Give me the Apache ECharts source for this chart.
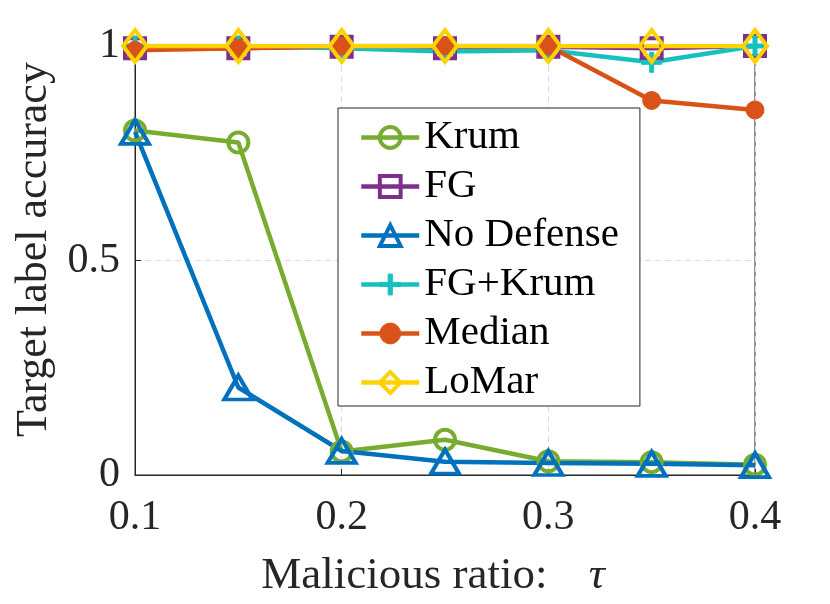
<!DOCTYPE html>
<html>
<head>
    <meta charset="utf-8">
    <title>Target label accuracy</title>
    <script src="https://cdn.jsdelivr.net/npm/echarts@6/dist/echarts.min.js"></script>
    <style>
        html, body { margin: 0; padding: 0; background: #fff; }
        #main { width: 830px; height: 604px; }
    </style>
</head>
<body>
<div id="main"></div>
<script type="text/javascript">
// 数据
var ratios = [0.1, 0.15, 0.2, 0.25, 0.3, 0.35, 0.4];
var krum      = [0.803, 0.775, 0.055, 0.082, 0.032, 0.030, 0.024];
var fg        = [0.995, 0.995, 0.998, 0.995, 0.998, 0.995, 1.0];
var noDefense = [0.80, 0.204, 0.056, 0.031, 0.028, 0.026, 0.023];
var fgKrum    = [1.0, 1.0, 0.995, 0.987, 0.99, 0.962, 1.0];
var median    = [0.99, 0.995, 1.0, 1.0, 1.0, 0.873, 0.851];
var loMar     = [1.0, 1.0, 1.0, 1.0, 1.0, 1.0, 1.0];
var xTicks = ['0.1', '0.2', '0.3', '0.4'];
var yTicks = ['0', '0.5', '1'];

var serif = 'Liberation Serif';
var plus = 'path://M4,0h2v4h4v2h-4v4h-2v-4h-4v-2h4z';

function pairs(vals) {
    var out = [];
    for (var i = 0; i < ratios.length; i++) {
        out.push([ratios[i], vals[i]]);
    }
    return out;
}

function mk(name, vals, col, symbol, size, hollow) {
    return {
        name: name,
        type: 'line',
        data: pairs(vals),
        symbol: symbol,
        symbolSize: size,
        showAllSymbol: true,
        lineStyle: { color: col, width: 4.5 },
        itemStyle: hollow
            ? { color: 'rgba(255,255,255,0)', borderColor: col, borderWidth: 4 }
            : { color: col, borderColor: col, borderWidth: 1 },
        emphasis: { disabled: true },
        animation: false
    };
}

// 图例里的线和标记要和图中一样粗
function legendItem(name, hollow) {
    return {
        name: name,
        lineStyle: { width: 4.5 },
        itemStyle: { borderWidth: hollow ? 4 : 1 }
    };
}

var myChart = echarts.init(document.getElementById('main'));

myChart.setOption({
    backgroundColor: '#fff',
    grid: {
        left: 135, right: 75, top: 46, bottom: 127,
        show: true, borderColor: '#262626', borderWidth: 1
    },
    legend: {
        orient: 'vertical',
        left: 338, top: 108,
        padding: [9, 21, 3, 21],
        itemGap: 8,
        itemWidth: 58,
        itemHeight: 26,
        backgroundColor: '#fff',
        borderColor: '#262626',
        borderWidth: 1,
        borderRadius: 0,
        textStyle: { fontFamily: serif, fontSize: 41, color: '#000', lineHeight: 40 },
        data: [
            legendItem('Krum', true),
            legendItem('FG', true),
            legendItem('No Defense', true),
            legendItem('FG+Krum', false),
            legendItem('Median', false),
            legendItem('LoMar', true)
        ]
    },
    xAxis: {
        type: 'value',
        min: 0.1, max: 0.4, interval: 0.1,
        name: 'Malicious ratio: {t|τ}',
        nameLocation: 'middle',
        nameGap: 79,
        nameTextStyle: {
            fontFamily: serif, fontSize: 45, color: '#262626',
            padding: [0, 24, 0, 0],
            rich: { t: { fontFamily: serif, fontSize: 45, fontStyle: 'italic', color: '#262626', padding: [0, 0, 0, 30] } }
        },
        axisLine: { lineStyle: { color: '#262626', width: 1 } },
        axisTick: { inside: true, length: 6, lineStyle: { color: '#262626' } },
        axisLabel: {
            margin: 22, fontFamily: serif, fontSize: 42, color: '#262626',
            formatter: function (v) {
                var s = v.toFixed(1);
                return xTicks.indexOf(s) >= 0 ? s : '';
            }
        },
        splitLine: { show: true, lineStyle: { color: '#dcdcdc', type: [6, 4], width: 1 } }
    },
    yAxis: {
        type: 'value',
        min: 0, max: 1, interval: 0.5,
        name: 'Target label accuracy',
        nameLocation: 'middle',
        nameGap: 76,
        nameTextStyle: { fontFamily: serif, fontSize: 44, color: '#262626', padding: [0, 0, 0, 22] },
        axisLine: { show: true, lineStyle: { color: '#262626', width: 1 } },
        axisTick: { show: true, inside: true, length: 6, lineStyle: { color: '#262626' } },
        axisLabel: {
            margin: 15, fontFamily: serif, fontSize: 42, color: '#262626',
            formatter: function (v) {
                var s = String(Math.round(v * 10) / 10);
                return yTicks.indexOf(s) >= 0 ? s : '';
            }
        },
        splitLine: { show: true, lineStyle: { color: '#dcdcdc', type: [6, 4], width: 1 } }
    },
    series: [
        mk('Krum', krum, '#77AC30', 'circle', 20, true),
        mk('FG', fg, '#7E2F8E', 'rect', 20, true),
        mk('No Defense', noDefense, '#0072BD', 'triangle', [28, 24], true),
        mk('FG+Krum', fgKrum, '#17C0C0', plus, 20, false),
        mk('Median', median, '#D95319', 'circle', 18, false),
        mk('LoMar', loMar, '#FFD200', 'diamond', [24, 32], true)
    ]
});
</script>
</body>
</html>
